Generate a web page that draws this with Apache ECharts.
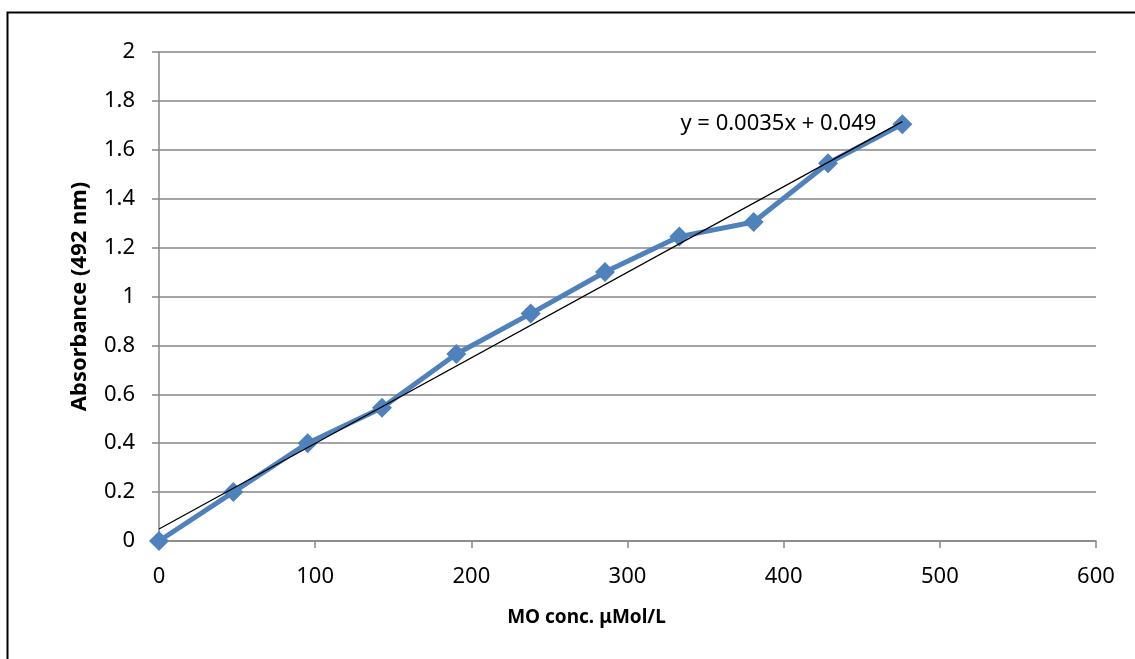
<!DOCTYPE html>
<html lang="en">
<head>
  <meta charset="UTF-8">
  <title>MO calibration</title>
  <style>
    html, body {margin: 0; padding: 0; background: #fff;}
    #chart {width: 1135px; height: 659px;}
  </style>
</head>
<body>
  <div id="chart"></div>
  <script src="https://cdn.jsdelivr.net/npm/echarts@6/dist/echarts.min.js"></script>
  <script>
    // data
    var concs = [0, 47.6, 95.2, 142.8, 190.4, 238, 285.6, 333.2, 380.8, 428.4, 476];
    var absorb = [0, 0.2, 0.4, 0.545, 0.765, 0.93, 1.1, 1.245, 1.305, 1.545, 1.705];
    var slope = 0.0035, intercept = 0.049;   // linear trendline from the label
    var xTicks = [0, 100, 200, 300, 400, 500, 600];
    var yTicks = [0, 0.2, 0.4, 0.6, 0.8, 1, 1.2, 1.4, 1.6, 1.8, 2];

    var chart = echarts.init(document.getElementById('chart'));
    var font = '"Noto Sans", sans-serif';
    var pts = concs.map(function (c, i) { return [c, absorb[i]]; });
    var xEnd = concs[concs.length - 1];
    var trend = [[0, intercept], [xEnd, slope * xEnd + intercept]];

    var option = {
      animation: false,
      textStyle: {fontFamily: font},
      grid: {left: 159, right: 39, top: 52, bottom: 118},
      graphic: [{
        type: 'rect',
        shape: {x: 7.5, y: 12.5, width: 1140, height: 660},
        style: {fill: 'none', stroke: '#000', lineWidth: 2}
      }],
      xAxis: {
        type: 'value', min: xTicks[0], max: xTicks[xTicks.length - 1], interval: 100,
        name: 'MO conc. μMol/L', nameLocation: 'middle', nameGap: 67,
        nameTextStyle: {fontSize: 19, fontWeight: 'bold', color: '#000', padding: [0, 82, 0, 0]},
        axisLine: {lineStyle: {color: '#868686', width: 1.5}},
        axisTick: {show: true, length: 7, lineStyle: {color: '#868686', width: 1.5}},
        axisLabel: {fontSize: 22, color: '#000', margin: 25},
        splitLine: {show: false}
      },
      yAxis: {
        type: 'value', min: yTicks[0], max: yTicks[yTicks.length - 1], interval: 0.2,
        name: 'Absorbance (492 nm)', nameLocation: 'middle', nameGap: 68,
        nameTextStyle: {fontSize: 22, fontWeight: 'bold', color: '#000'},
        axisLine: {show: true, lineStyle: {color: '#868686', width: 1.5}},
        axisTick: {show: true, length: 7, lineStyle: {color: '#868686', width: 1.5}},
        axisLabel: {fontSize: 22, color: '#000', margin: 24},
        splitLine: {lineStyle: {color: '#868686', width: 1.5}}
      },
      series: [{
        name: 'Absorbance',
        type: 'line',
        data: pts,
        z: 2,
        lineStyle: {color: '#4F81BD', width: 5},
        itemStyle: {color: '#4F81BD'},
        symbol: 'path://M0,-1L1,0L0,1L-1,0Z',
        symbolSize: 20,
        showAllSymbol: true
      }, {
        name: 'Trend',
        type: 'line',
        data: trend,
        z: 3,
        symbol: 'none',
        silent: true,
        lineStyle: {color: '#000', width: 1.3},
        endLabel: {
          show: true,
          formatter: 'y = ' + slope + 'x + ' + intercept,
          color: '#000', fontSize: 22, fontFamily: font,
          align: 'right', distance: 0, offset: [-26, 2]
        }
      }]
    };

    chart.setOption(option);
  </script>
</body>
</html>
